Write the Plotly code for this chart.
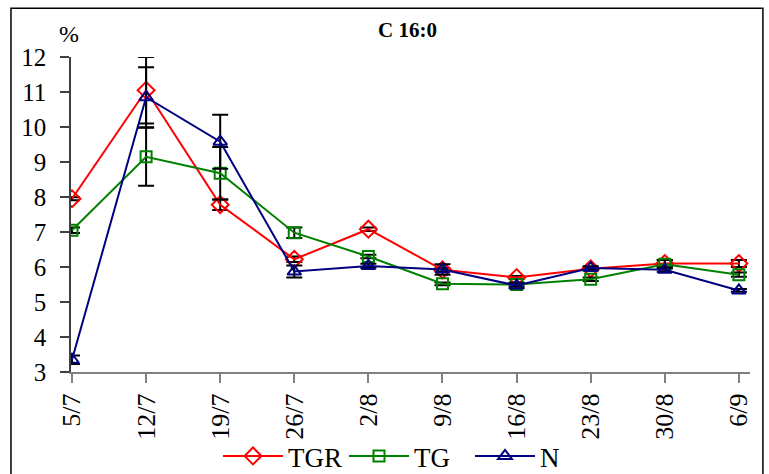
import plotly.graph_objects as go

# Sampling dates (day/month)
dates = ["5/7", "12/7", "19/7", "26/7", "2/8", "9/8", "16/8", "23/8", "30/8", "6/9"]

# C 16:0 content (%) per treatment, with standard errors
tgr = [7.95, 11.05, 7.78, 6.22, 7.08, 5.92, 5.70, 5.95, 6.10, 6.10]
tgr_err = [0.04, 0.95, 0.15, 0.08, 0.05, 0.05, 0.04, 0.05, 0.10, 0.10]

tg = [7.05, 9.15, 8.68, 6.98, 6.30, 5.52, 5.50, 5.65, 6.08, 5.78]
tg_err = [0.08, 0.83, 0.75, 0.15, 0.05, 0.04, 0.05, 0.05, 0.12, 0.06]

n = [3.35, 10.85, 9.58, 5.87, 6.03, 5.93, 5.47, 5.97, 5.92, 5.33]
n_err = [0.12, 0.86, 0.77, 0.17, 0.06, 0.15, 0.08, 0.05, 0.06, 0.04]

series = [
    ("TGR", tgr, tgr_err, "#FF0000", "diamond-open", 13),
    ("TG", tg, tg_err, "#008000", "square-open", 11),
    ("N", n, n_err, "#000080", "triangle-up-open", 12),
]

serif = "Liberation Serif"
x_idx = list(range(len(dates)))

fig = go.Figure()
for name, vals, errs, color, symbol, size in series:
    fig.add_trace(go.Scatter(
        x=x_idx, y=vals, name=name, mode="lines+markers",
        line=dict(color=color, width=2),
        marker=dict(symbol=symbol, size=size, color=color,
                    line=dict(color=color, width=2)),
        error_y=dict(type="data", array=errs, visible=True,
                     color="black", thickness=2, width=8),
    ))

fig.update_layout(
    width=769, height=474,
    margin=dict(l=71, r=19, t=57, b=102, autoexpand=False),
    paper_bgcolor="white", plot_bgcolor="white",
    font=dict(family=serif, size=24, color="black"),
    showlegend=True,
    legend=dict(orientation="h", x=0.2165, xanchor="left",
                y=-0.268, yanchor="middle",
                font=dict(family=serif, size=27),
                itemwidth=60, entrywidth=51, entrywidthmode="pixels",
                bgcolor="rgba(0,0,0,0)"),
    xaxis=dict(
        tickmode="array", tickvals=x_idx, ticktext=dates,
        tickangle=-90, range=[-0.0135, 9.15], automargin=False,
        showgrid=False, zeroline=False,
        showline=True, linecolor="#808080", linewidth=2,
        ticks="outside", ticklen=9, tickcolor="#808080", tickwidth=1.5,
        tickfont=dict(family=serif, size=26),
    ),
    yaxis=dict(
        range=[3, 12], dtick=1, automargin=False,
        showgrid=False, zeroline=False,
        showline=True, linecolor="#404040", linewidth=1.5,
        ticks="outside", ticklen=9, tickcolor="#404040", tickwidth=1.5,
        ticklabelstandoff=9,
        tickfont=dict(family=serif, size=25),
    ),
    shapes=[dict(type="rect", xref="paper", yref="paper",
                 x0=-0.0884, x1=1.019, y0=-0.36, y1=1.155,
                 line=dict(color="black", width=1.5), layer="below")],
    annotations=[
        dict(text="<b>C 16:0</b>", xref="paper", yref="paper",
             x=0.496, y=1.085, xanchor="center", yanchor="middle",
             showarrow=False, font=dict(family=serif, size=21)),
        dict(text="%", xref="paper", yref="paper",
             x=-0.003, y=1.072, xanchor="center", yanchor="middle",
             showarrow=False, font=dict(family=serif, size=24)),
    ],
)

fig.write_html("out.html")
